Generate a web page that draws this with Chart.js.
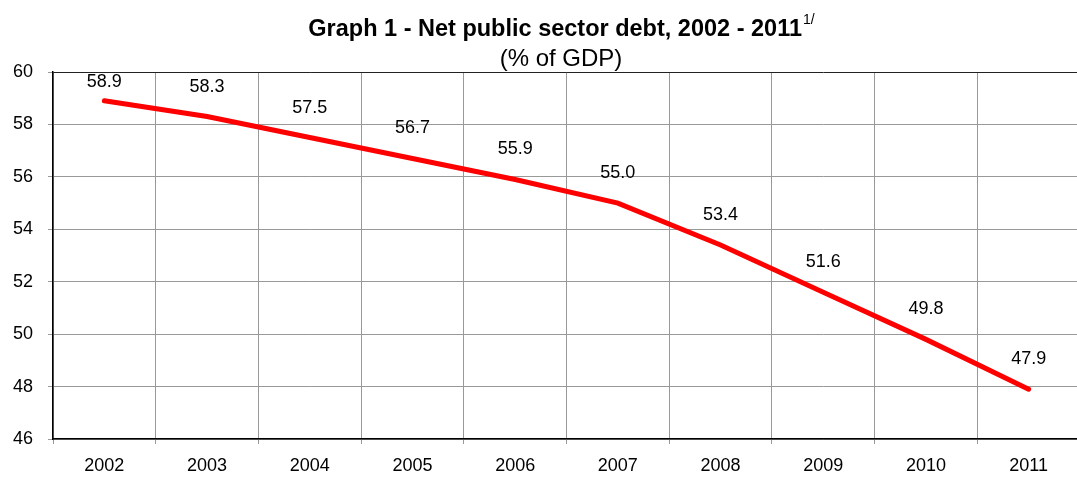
<!DOCTYPE html>
<html>
<head>
<meta charset="utf-8">
<script src="https://cdn.jsdelivr.net/npm/chart.js@4.4.1/dist/chart.umd.min.js"></script>
<style>
  html, body { margin: 0; padding: 0; background: #fff; overflow: hidden; }
  #wrap { position: relative; width: 1082px; height: 477px; }
</style>
</head>
<body>
<div id="wrap"><canvas id="debt-chart"></canvas></div>
<script>
// Net public sector debt, % of GDP
const years = ['2002', '2003', '2004', '2005', '2006', '2007', '2008', '2009', '2010', '2011'];
const debtPct = [58.9, 58.3, 57.5, 56.7, 55.9, 55.0, 53.4, 51.6, 49.8, 47.9];
const yTicks = [46, 48, 50, 52, 54, 56, 58, 60];

const FONT = '"Liberation Sans", Arial, sans-serif';

// title with the "1/" footnote mark set as superscript
const titlePlugin = {
    id: 'graphTitle',
    afterDraw(chart) {
        const ctx = chart.ctx;
        const main = 'Graph 1 - Net public sector debt, 2002 - 2011';
        const sup = '1/';
        const cx = 561;
        ctx.save();
        ctx.fillStyle = '#000';
        ctx.textBaseline = 'alphabetic';
        ctx.font = 'bold 23.5px ' + FONT;
        const wMain = ctx.measureText(main).width;
        ctx.font = '14px ' + FONT;
        const wSup = ctx.measureText(sup).width;
        const x0 = cx - (wMain + wSup) / 2;
        ctx.font = 'bold 23.5px ' + FONT;
        ctx.textAlign = 'left';
        ctx.fillText(main, x0, 36);
        ctx.font = '14px ' + FONT;
        ctx.fillText(sup, x0 + wMain + 1, 24);
        ctx.font = '24px ' + FONT;
        ctx.textAlign = 'center';
        ctx.fillText('(% of GDP)', cx, 66);
        ctx.restore();
    },
};

// value labels above each point
const valueLabels = {
    id: 'valueLabels',
    afterDatasetsDraw(chart) {
        const ctx = chart.ctx;
        const meta = chart.getDatasetMeta(0);
        ctx.save();
        ctx.font = '18px ' + FONT;
        ctx.fillStyle = '#000';
        ctx.textAlign = 'center';
        ctx.textBaseline = 'middle';
        meta.data.forEach((pt, i) => {
            const y = Math.max(pt.y - 30, chart.chartArea.top + 10);
            ctx.fillText(debtPct[i].toFixed(1), pt.x, y);
        });
        ctx.restore();
    },
};

new Chart(document.getElementById('debt-chart').getContext('2d'), {
    type: 'line',
    data: {
        labels: years,
        datasets: [{
            data: debtPct,
            borderColor: '#ff0000',
            borderWidth: 5,
            borderCapStyle: 'round',
            pointRadius: 0,
            tension: 0,
        }],
    },
    options: {
        responsive: true,
        maintainAspectRatio: false,
        animation: false,
        layout: { padding: { top: 72, right: 2, left: 0, bottom: 0 } },
        plugins: {
            legend: { display: false },
            tooltip: { enabled: false },
        },
        scales: {
            x: {
                offset: true,
                grid: { offset: true, color: '#999', tickLength: 5, tickColor: '#999' },
                border: { color: '#000', width: 1.5 },
                ticks: { color: '#000', padding: 11, font: { family: FONT, size: 18 }, maxRotation: 0 },
                afterFit(scale) { scale.height = 38; },
            },
            y: {
                min: 46,
                max: 60,
                afterBuildTicks(scale) { scale.ticks = yTicks.map((v) => ({ value: v })); },
                grid: {
                    color: (c) => (c.tick && c.tick.value === 60 ? '#222' : '#999'),
                    tickLength: 5,
                    tickColor: '#999',
                },
                border: { color: '#000', width: 1.5 },
                ticks: { color: '#000', padding: 15, font: { family: FONT, size: 18 } },
                afterFit(scale) { scale.width = 53; },
            },
        },
    },
    plugins: [titlePlugin, valueLabels],
});
</script>
</body>
</html>
